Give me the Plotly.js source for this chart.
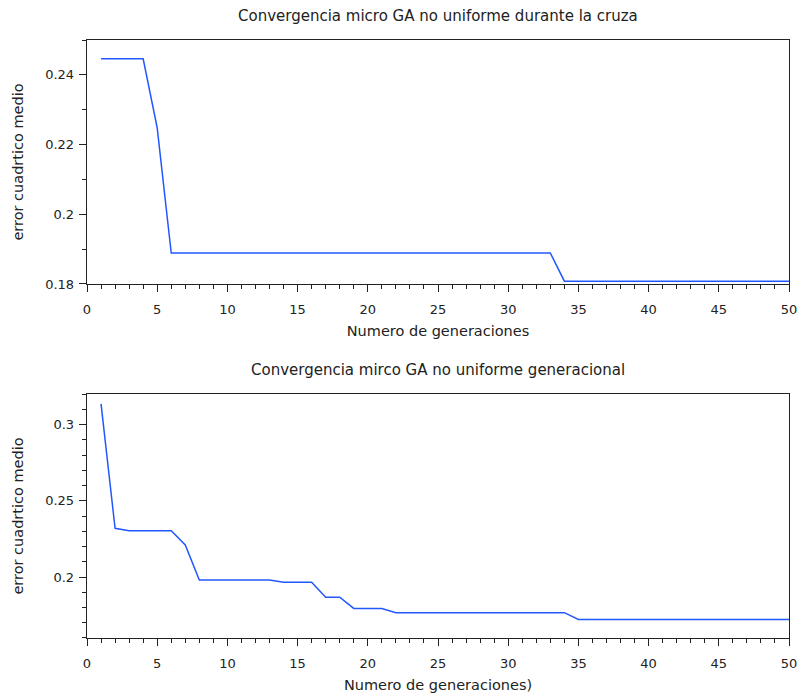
<!DOCTYPE html>
<html>
<head>
<meta charset="utf-8">
<script src="https://cdn.plot.ly/plotly-3.0.1.min.js"></script>
<style>html,body{margin:0;padding:0;background:#fff;}#chart{width:801px;height:699px;}</style>
</head>
<body>
<div id="chart"></div>
<script>
const generaciones = [1,2,3,4,5,6,7,8,9,10,11,12,13,14,15,16,17,18,19,20,21,22,23,24,25,26,27,28,29,30,31,32,33,34,35,36,37,38,39,40,41,42,43,44,45,46,47,48,49,50];

const errorCruza = [
  0.2446,0.2446,0.2446,0.2446,0.2248,
  0.1889,0.1889,0.1889,0.1889,0.1889,0.1889,0.1889,0.1889,0.1889,0.1889,
  0.1889,0.1889,0.1889,0.1889,0.1889,0.1889,0.1889,0.1889,0.1889,0.1889,
  0.1889,0.1889,0.1889,0.1889,0.1889,0.1889,0.1889,0.1889,
  0.1808,0.1808,0.1808,0.1808,0.1808,0.1808,0.1808,0.1808,0.1808,0.1808,
  0.1808,0.1808,0.1808,0.1808,0.1808,0.1808,0.1808
];

const errorGeneracional = [
  0.3135,0.2319,0.2303,0.2303,0.2303,0.2303,0.2210,
  0.1980,0.1980,0.1980,0.1980,0.1980,0.1980,
  0.1965,0.1965,0.1965,
  0.1867,0.1867,
  0.1794,0.1794,0.1794,
  0.1766,0.1766,0.1766,0.1766,0.1766,0.1766,0.1766,0.1766,0.1766,0.1766,0.1766,0.1766,0.1766,
  0.1722,0.1722,0.1722,0.1722,0.1722,0.1722,0.1722,0.1722,0.1722,0.1722,0.1722,0.1722,0.1722,0.1722,0.1722,0.1722
];

const titulo1 = "Convergencia micro GA no uniforme durante la cruza";
const titulo2 = "Convergencia mirco GA no uniforme generacional";
const xTitulo1 = "Numero de generaciones";
const xTitulo2 = "Numero de generaciones)";
const yTitulo = "error cuadrtico medio";

const lineColor = "#2257ff";
const fontFam = "DejaVu Sans, Arial, sans-serif";

const traces = [
  {x: generaciones, y: errorCruza, type: "scatter", mode: "lines", xaxis: "x", yaxis: "y",
   line: {color: lineColor, width: 1.5}, hoverinfo: "skip"},
  {x: generaciones, y: errorGeneracional, type: "scatter", mode: "lines", xaxis: "x2", yaxis: "y2",
   line: {color: lineColor, width: 1.5}, hoverinfo: "skip"}
];

function xax(domainAnchor, titleText) {
  return {
    anchor: domainAnchor, domain: [0, 1], range: [0, 50], dtick: 5, tick0: 0,
    showgrid: false, zeroline: false, showline: true, mirror: true,
    linecolor: "#222", linewidth: 1.3, ticks: "outside", ticklen: 7, tickcolor: "#222",
    ticklabelstandoff: 6,
    minor: {dtick: 1, ticks: "outside", ticklen: 4, tickcolor: "#222", showgrid: false},
    tickfont: {family: fontFam, size: 13, color: "#222"},
    title: {text: titleText, font: {family: fontFam, size: 14.5, color: "#222"}, standoff: 10}
  };
}
function yax(domain, anchor, range, dtick, tick0, minorDtick) {
  return {
    domain: domain, anchor: anchor, range: range, dtick: dtick, tick0: tick0,
    showgrid: false, zeroline: false, showline: true, mirror: true,
    linecolor: "#222", linewidth: 1.3, ticks: "outside", ticklen: 7, tickcolor: "#222",
    ticklabelstandoff: 2,
    minor: {dtick: minorDtick, ticks: "outside", ticklen: 4, tickcolor: "#222", showgrid: false},
    tickfont: {family: fontFam, size: 13, color: "#222"},
    title: {text: yTitulo, font: {family: fontFam, size: 14.5, color: "#222"}, standoff: 18}
  };
}

const layout = {
  width: 801, height: 699,
  margin: {l: 87, r: 12, t: 40, b: 61},
  paper_bgcolor: "#fff", plot_bgcolor: "#fff",
  showlegend: false,
  xaxis: xax("y", xTitulo1),
  yaxis: yax([0.592, 1], "x", [0.18, 0.25], 0.02, 0.18, 0.01),
  xaxis2: xax("y2", xTitulo2),
  yaxis2: yax([0, 0.408], "x2", [0.16, 0.32], 0.05, 0.2, 0.01),
  annotations: [
    {text: titulo1, xref: "paper", yref: "paper", x: 0.5, y: 1.040, xanchor: "center", yanchor: "middle",
     showarrow: false, font: {family: fontFam, size: 15, color: "#222"}},
    {text: titulo2, xref: "paper", yref: "paper", x: 0.5, y: 0.448, xanchor: "center", yanchor: "middle",
     showarrow: false, font: {family: fontFam, size: 15, color: "#222"}}
  ]
};

Plotly.newPlot("chart", traces, layout, {staticPlot: true, displayModeBar: false});
</script>
</body>
</html>
